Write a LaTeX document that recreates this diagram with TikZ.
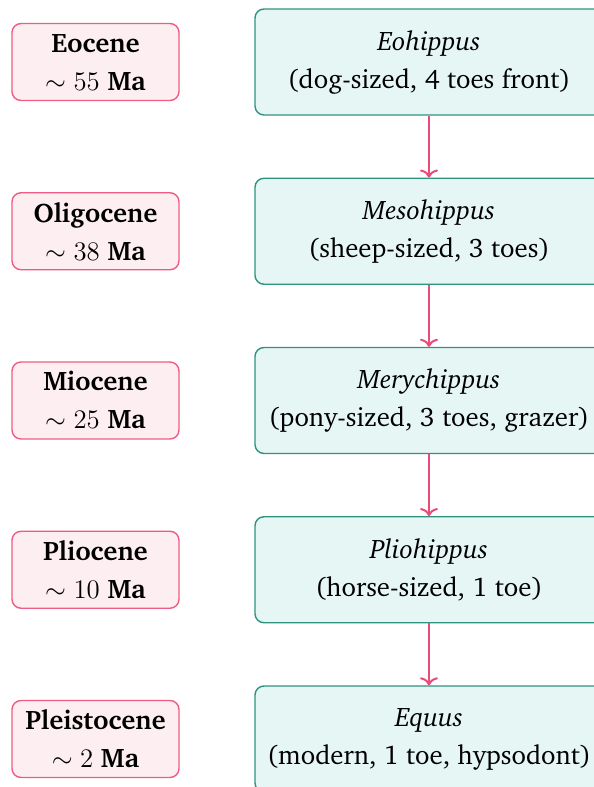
\documentclass[tikz,border=0pt]{standalone}
\usepackage{fix-cm}
\usepackage[T1]{fontenc}
\usepackage{charter}
\usetikzlibrary{arrows.meta}
\definecolor{epochfill}{HTML}{FDEEF2}
\definecolor{epochdraw}{HTML}{EE5C86}
\definecolor{genfill}{HTML}{E6F6F4}
\definecolor{gendraw}{HTML}{2E937F}
\definecolor{arrowc}{HTML}{EA4B7B}
\tikzset{
  epoch/.style={draw=epochdraw, fill=epochfill, line width=0.7pt, rounded corners=4.5pt,
    minimum width=83.5pt, minimum height=38.5pt, align=center, inner sep=0pt,
    font=\fontsize{13.4}{19}\selectfont\bfseries},
  genus/.style={draw=gendraw, fill=genfill, line width=0.7pt, rounded corners=4.5pt,
    minimum width=174pt, minimum height=53pt, align=center, inner sep=0pt,
    font=\fontsize{13.4}{19}\selectfont},
  evo/.style={draw=arrowc, line width=1pt, -{To[length=4pt,width=9pt]}}
}
\begin{document}
\begin{tikzpicture}[x=0.5pt,y=0.5pt]
\useasboundingbox (0,0) rectangle (594,787);
\clip (0,0) rectangle (594,787);
% genera
\node[genus] (g1) at (429,725) {\textit{Eohippus}\\(dog-sized, 4 toes front)};
\node[genus] (g2) at (429,555.75) {\textit{Mesohippus}\\(sheep-sized, 3 toes)};
\node[genus] (g3) at (429,386.5) {\textit{Merychippus}\\(pony-sized, 3 toes, grazer)};
\node[genus] (g4) at (429,217.25) {\textit{Pliohippus}\\(horse-sized, 1 toe)};
\node[genus] (g5) at (429,48) {\textit{Equus}\\(modern, 1 toe, hypsodont)};
% epochs
\node[epoch] (e1) at (95.5,725) {Eocene\\$\sim 55$ Ma};
\node[epoch] (e2) at (95.5,555.75) {Oligocene\\$\sim 38$ Ma};
\node[epoch] (e3) at (95.5,386.5) {Miocene\\$\sim 25$ Ma};
\node[epoch] (e4) at (95.5,217.25) {Pliocene\\$\sim 10$ Ma};
\node[epoch] (e5) at (95.5,48) {Pleistocene\\$\sim 2$ Ma};
% arrows
\draw[evo] (g1.south) -- (g2.north);
\draw[evo] (g2.south) -- (g3.north);
\draw[evo] (g3.south) -- (g4.north);
\draw[evo] (g4.south) -- (g5.north);
\end{tikzpicture}
\end{document}
